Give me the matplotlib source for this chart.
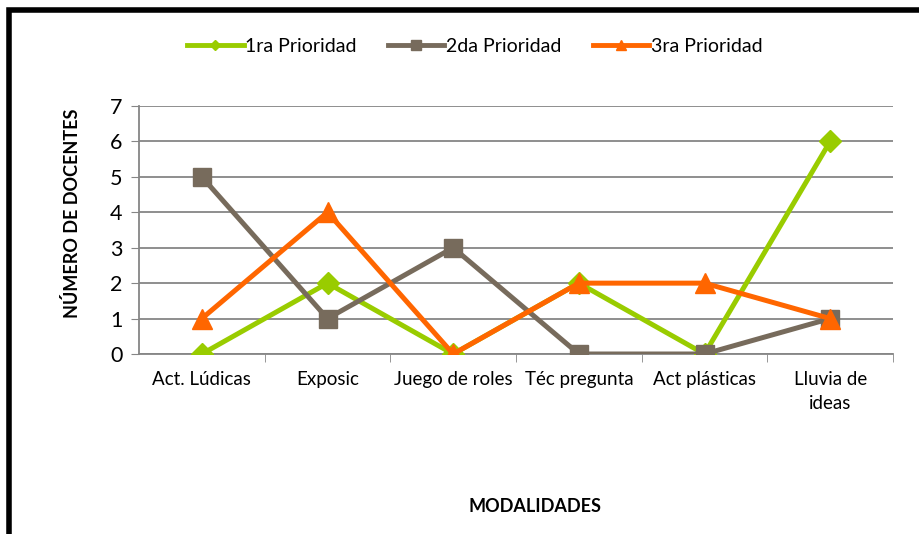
import matplotlib.pyplot as plt
from matplotlib.patches import Rectangle
from matplotlib.lines import Line2D

categorias = ['Act. Lúdicas', 'Exposic', 'Juego de roles', 'Téc pregunta', 'Act plásticas', 'Lluvia de\nideas']
prioridad_1 = [0, 2, 0, 2, 0, 6]
prioridad_2 = [5, 1, 3, 0, 0, 1]
prioridad_3 = [1, 4, 0, 2, 2, 1]
y_ticks = [0, 1, 2, 3, 4, 5, 6, 7]

plt.rcParams['font.family'] = ['Lato', 'DejaVu Sans']

fig = plt.figure(figsize=(9.19, 5.34), dpi=100)
ax = fig.add_axes([139/919, 1 - 354/534, 754/919, 248/534])

x = list(range(len(categorias)))
ax.plot(x, prioridad_1, color='#99CC00', lw=3.6, marker='D', ms=11, zorder=3)
ax.plot(x, prioridad_2, color='#776B5C', lw=3.6, marker='s', ms=13, zorder=3)
ax.plot(x, prioridad_3, color='#FF6600', lw=3.6, marker='^', ms=14, zorder=4)

ax.set_xlim(-0.5, len(categorias) - 0.5)
ax.set_ylim(0, 7)
ax.set_yticks(y_ticks)
ax.tick_params(axis='y', labelsize=15.5, length=6, color='#868686', pad=6)
ax.set_xticks(x)
ax.set_xticklabels(categorias, fontsize=13.5, linespacing=1.55)
ax.tick_params(axis='x', length=0, pad=12)
ax.set_xticks([i + 0.5 for i in x], minor=True)
ax.tick_params(axis='x', which='minor', length=6, color='#868686')
ax.yaxis.grid(True, color='#868686', lw=1.3)
ax.set_axisbelow(True)
for s in ['top', 'right']:
    ax.spines[s].set_visible(False)
for s in ['left', 'bottom']:
    ax.spines[s].set_color('#868686')
    ax.spines[s].set_linewidth(1.3)

handles = [
    Line2D([], [], color='#99CC00', lw=3.5, marker='D', ms=5),
    Line2D([], [], color='#776B5C', lw=3.5, marker='s', ms=7),
    Line2D([], [], color='#FF6600', lw=3.5, marker='^', ms=7),
]
fig.legend(handles, ['1ra Prioridad', '2da Prioridad', '3ra Prioridad'], loc='center',
           bbox_to_anchor=(475/919, 1 - 46/534), ncol=3, frameon=False,
           fontsize=14, handlelength=2.9, columnspacing=1.6, handletextpad=0.1)

fig.text(72/919, 1 - 213/534, 'NÚMERO DE DOCENTES', rotation=90, fontsize=13,
         fontweight='bold', ha='center', va='center')
fig.text(535/919, 1 - 507/534, 'MODALIDADES', fontsize=13, fontweight='bold',
         ha='center', va='center')

fig.patches.append(Rectangle((9/919, -0.1), 1.1, 1 - 10/534 + 0.1, transform=fig.transFigure,
                             fill=False, ec='black', lw=4))

fig.savefig('out.png', dpi=100)
